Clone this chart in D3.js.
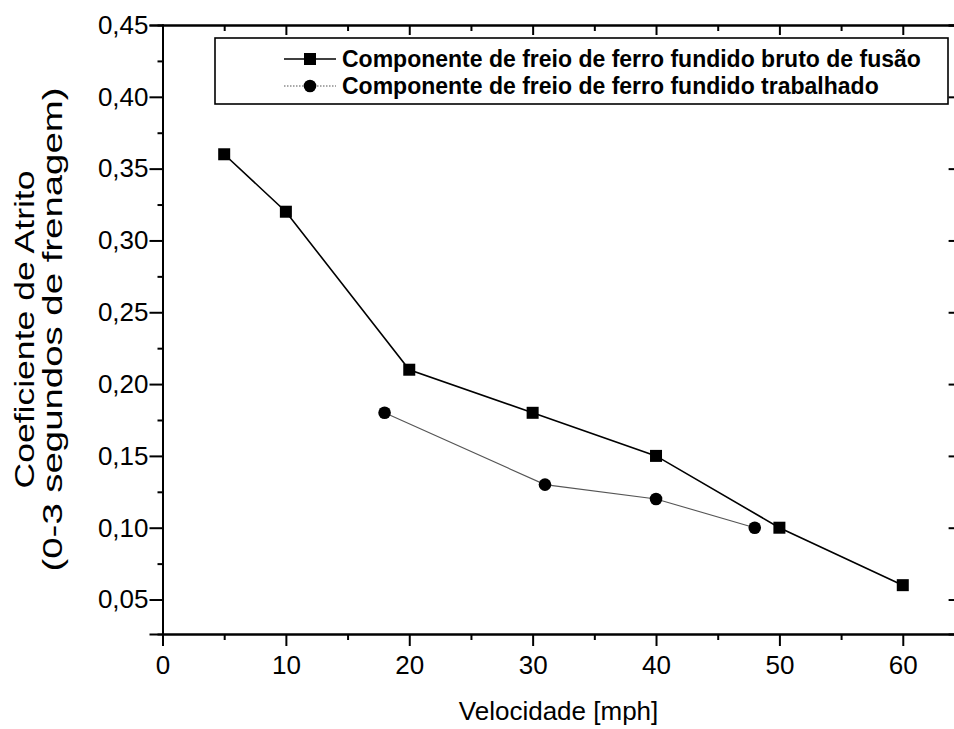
<!DOCTYPE html>
<html>
<head>
<meta charset="utf-8">
<script src="https://cdn.jsdelivr.net/npm/d3@7"></script>
<style>
  html, body { margin: 0; padding: 0; background: #fff; }
  svg { display: block; font-family: "Liberation Sans", Arial, sans-serif; }
</style>
</head>
<body>
<svg id="chart" width="954" height="729"></svg>
<script>
// ---- data ----
const seriesNames = [
  "Componente de freio de ferro fundido bruto de fusão",
  "Componente de freio de ferro fundido trabalhado"
];
const brutoX = [5, 10, 20, 30, 40, 50, 60];
const brutoY = [0.36, 0.32, 0.21, 0.18, 0.15, 0.10, 0.06];
const trabX = [18, 31, 40, 48];
const trabY = [0.18, 0.13, 0.12, 0.10];
const xMajorTicks = [0, 10, 20, 30, 40, 50, 60];
const xMinorTicks = [5, 15, 25, 35, 45, 55];
const yMajorTicks = [0.05, 0.10, 0.15, 0.20, 0.25, 0.30, 0.35, 0.40, 0.45];
const yMinorTicks = [0.075, 0.125, 0.175, 0.225, 0.275, 0.325, 0.375, 0.425];
const xTitle = "Velocidade [mph]";
const yTitle1 = "Coeficiente de Atrito";
const yTitle2 = "(0-3 segundos de frenagem)";

const svg = d3.select("#chart");
const L = 162.5, R = 954.6, T = 25, B = 634;
const x = d3.scaleLinear().domain([0, 64.2]).range([L, R]);
const y = d3.scaleLinear().domain([0.026, 0.45]).range([B, T]);
const fmt = d => d3.format(".2f")(d).replace(".", ",");

function styleAxis(g) {
  g.selectAll(".domain").attr("stroke", "#000").attr("stroke-width", 2);
  g.selectAll(".tick line").attr("stroke", "#000").attr("stroke-width", 2);
  g.selectAll("text").attr("fill", "#000").style("font-size", "26px")
    .style("font-family", "'Liberation Sans', Arial, sans-serif");
}

// bottom
const gB = svg.append("g").attr("transform", `translate(0,${B})`);
gB.call(d3.axisBottom(x).tickValues(xMajorTicks).tickSize(12).tickPadding(10).tickFormat(d3.format("d")));
styleAxis(gB);
const gBm = svg.append("g").attr("transform", `translate(0,${B})`);
gBm.call(d3.axisBottom(x).tickValues(xMinorTicks).tickSize(6).tickFormat(""));
styleAxis(gBm);

// top (inward ticks)
const gT = svg.append("g").attr("transform", `translate(0,${T})`);
gT.call(d3.axisTop(x).tickValues(xMajorTicks).tickSize(-10).tickFormat(""));
styleAxis(gT);
const gTm = svg.append("g").attr("transform", `translate(0,${T})`);
gTm.call(d3.axisTop(x).tickValues(xMinorTicks).tickSize(-6).tickFormat(""));
styleAxis(gTm);

// left
const gL = svg.append("g").attr("transform", `translate(${L},0)`);
gL.call(d3.axisLeft(y).tickValues(yMajorTicks).tickSize(13).tickPadding(1).tickFormat(fmt));
styleAxis(gL);
const gLm = svg.append("g").attr("transform", `translate(${L},0)`);
gLm.call(d3.axisLeft(y).tickValues(yMinorTicks).tickSize(5).tickFormat(""));
styleAxis(gLm);

// right (inward ticks)
const gR = svg.append("g").attr("transform", `translate(${R},0)`);
gR.call(d3.axisRight(y).tickValues(yMajorTicks).tickSize(-6).tickFormat(""));
styleAxis(gR);

// series
const bruto = brutoX.map((v, i) => [v, brutoY[i]]);
const trab = trabX.map((v, i) => [v, trabY[i]]);
const line = d3.line().x(d => x(d[0])).y(d => y(d[1]));

svg.append("path").datum(trab).attr("d", line)
  .attr("fill", "none").attr("stroke", "#555").attr("stroke-width", 1.1);
svg.append("path").datum(bruto).attr("d", line)
  .attr("fill", "none").attr("stroke", "#000").attr("stroke-width", 1.6);

svg.append("g").selectAll("rect").data(bruto).join("rect")
  .attr("x", d => x(d[0]) - 6).attr("y", d => y(d[1]) - 6)
  .attr("width", 12).attr("height", 12).attr("fill", "#000");
svg.append("g").selectAll("circle").data(trab).join("circle")
  .attr("cx", d => x(d[0])).attr("cy", d => y(d[1])).attr("r", 6.3).attr("fill", "#000");

// legend
const lg = svg.append("g");
lg.append("rect").attr("x", 215).attr("y", 38).attr("width", 733).attr("height", 66)
  .attr("fill", "#fff").attr("stroke", "#000").attr("stroke-width", 1.6);
const rows = [59, 86];
lg.append("line").attr("x1", 284).attr("x2", 336).attr("y1", rows[0]).attr("y2", rows[0])
  .attr("stroke", "#000").attr("stroke-width", 1.6);
lg.append("rect").attr("x", 304).attr("y", rows[0] - 6).attr("width", 12).attr("height", 12).attr("fill", "#000");
lg.append("line").attr("x1", 284).attr("x2", 336).attr("y1", rows[1]).attr("y2", rows[1])
  .attr("stroke", "#555").attr("stroke-width", 1.1).attr("stroke-dasharray", "1.5,1.5");
lg.append("circle").attr("cx", 310).attr("cy", rows[1]).attr("r", 6.3).attr("fill", "#000");
lg.selectAll("text.lt").data(seriesNames).join("text").attr("class", "lt")
  .attr("x", 342).attr("y", (d, i) => rows[i] + 8)
  .style("font-size", "23px").style("font-weight", "bold").attr("fill", "#000")
  .text(d => d);

// titles
svg.append("text").attr("x", (L + R) / 2).attr("y", 720).attr("text-anchor", "middle")
  .style("font-size", "26px").attr("fill", "#000").text(xTitle);
svg.append("text").attr("transform", `translate(34,${(T + B) / 2}) rotate(-90)`)
  .attr("text-anchor", "middle").style("font-size", "28px").attr("fill", "#000")
  .attr("textLength", 318).attr("lengthAdjust", "spacingAndGlyphs").text(yTitle1);
svg.append("text").attr("transform", `translate(62,${(T + B) / 2}) rotate(-90)`)
  .attr("text-anchor", "middle").style("font-size", "28px").attr("fill", "#000")
  .attr("textLength", 484).attr("lengthAdjust", "spacingAndGlyphs").text(yTitle2);
</script>
</body>
</html>
